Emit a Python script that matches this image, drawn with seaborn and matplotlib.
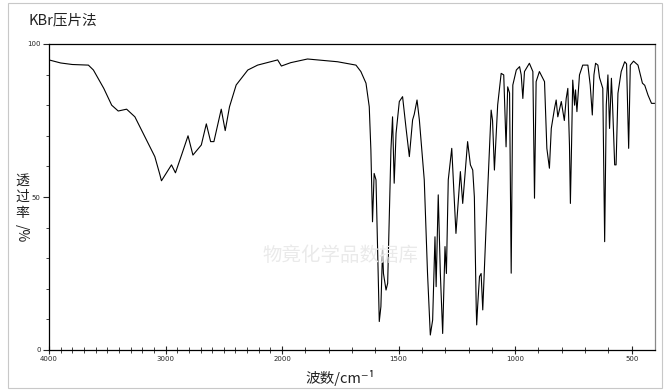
import numpy as np
import pandas as pd
import seaborn as sns
import matplotlib
matplotlib.use("Agg")
import matplotlib.pyplot as plt
from matplotlib.patches import Rectangle

# ---------------- data ----------------
wavenumber = [4000, 3900, 3800, 3662, 3619, 3530, 3462, 3406, 3334, 3263, 3177, 3092,
              3050, 3035, 2990, 2949, 2915, 2860, 2807, 2765, 2693, 2650, 2613, 2585,
              2522, 2488, 2451, 2394, 2294, 2210, 2100, 2038, 2006, 1963, 1891, 1805,
              1762, 1726, 1683, 1662, 1640, 1626, 1619, 1612, 1605, 1597, 1583, 1576,
              1569, 1565, 1554, 1547, 1533, 1526, 1519, 1511, 1497, 1483, 1468, 1454,
              1440, 1433, 1421, 1411, 1390, 1376, 1364, 1354, 1344, 1339, 1330, 1321,
              1311, 1301, 1295, 1287, 1272, 1254, 1235, 1225, 1204, 1192, 1182, 1175,
              1167, 1165, 1161, 1153, 1146, 1139, 1125, 1113, 1103, 1097, 1089, 1082,
              1075, 1060, 1049, 1039, 1032, 1024, 1017, 1010, 995, 981, 974, 967,
              960, 939, 924, 917, 910, 896, 874, 864, 853, 845, 831, 824,
              817, 802, 789, 781, 774, 767, 763, 758, 753, 745, 741, 735,
              724, 710, 688, 678, 669, 662, 655, 645, 638, 624, 616, 609,
              602, 595, 587, 582, 573, 567, 559, 545, 530, 522, 513, 506,
              492, 473, 454, 444, 430, 415, 400]
transmittance = [94.8, 93.8, 93.3, 93.1, 91.5, 85.5, 80.0, 78.1, 78.7, 76.2, 69.7, 63.2,
                 57.5, 55.3, 58.0, 60.5, 57.9, 64.0, 70.0, 63.7, 67.0, 73.9, 68.1, 68.1,
                 78.7, 71.7, 79.5, 86.6, 91.5, 93.1, 94.2, 94.8, 92.8, 93.9, 95.1, 94.5,
                 94.2, 93.7, 93.1, 91.0, 87.2, 79.5, 65.4, 41.9, 57.7, 55.6, 9.3, 14.2,
                 32.7, 25.0, 19.6, 21.8, 65.4, 76.2, 54.5, 70.8, 81.2, 82.8, 72.4, 63.2,
                 75.2, 77.0, 81.7, 75.2, 55.6, 25.1, 4.9, 9.8, 37.0, 20.7, 50.7, 25.1,
                 5.4, 33.8, 25.0, 55.6, 65.9, 38.1, 58.3, 47.9, 68.1, 60.5, 58.8, 50.0,
                 13.6, 8.2, 14.2, 24.0, 25.0, 13.1, 39.8, 60.5, 78.4, 75.0, 58.8, 69.2,
                 80.1, 90.4, 89.9, 66.4, 86.0, 84.0, 25.1, 86.6, 91.5, 92.6, 89.9, 82.2,
                 91.0, 93.7, 91.0, 49.6, 87.7, 91.0, 87.7, 65.9, 59.4, 72.4, 79.0, 81.7,
                 76.2, 81.2, 75.0, 82.2, 85.5, 67.0, 47.9, 67.0, 88.2, 80.0, 85.0, 77.9,
                 89.9, 93.1, 93.1, 86.6, 76.8, 89.9, 93.7, 93.1, 89.0, 85.5, 35.4, 80.1,
                 89.9, 72.4, 88.8, 80.0, 60.5, 60.5, 83.9, 91.0, 94.2, 93.5, 65.9, 93.1,
                 94.4, 93.1, 87.2, 86.5, 83.3, 80.6, 80.6]
x_major_ticks = [4000, 3000, 2000, 1500, 1000, 500]
x_tick_labels = ["4000", "3000", "2000", "1500", "1000", "500"]
y_major_ticks = [0, 50, 100]
y_tick_labels = ["0", "50", "100"]

title_text = "KBr压片法"
xlabel_text = "波数/cm⁻¹"
ylabel_chars = ["透", "过", "率"]
ylabel_tail = "/%"
watermark_text = "物竟化学品数据库"

df = pd.DataFrame({"wn": wavenumber, "T": transmittance})

# ---------------- figure ----------------
sns.set_style("white")
plt.rcParams['font.family'] = ['Noto Sans CJK SC', 'DejaVu Sans']

fig = plt.figure(figsize=(6.67, 3.91), dpi=100)
ax = fig.add_axes([49 / 667, 1 - 350 / 391, 606 / 667, 306 / 391])

def fwd(x):
    x = np.asarray(x, dtype=float)
    return np.where(x > 2000, 2000 + (x - 2000) / 2.0, x)

def inv(y):
    y = np.asarray(y, dtype=float)
    return np.where(y > 2000, 2000 + (y - 2000) * 2.0, y)

ax.set_xscale('function', functions=(fwd, inv))

sns.lineplot(data=df, x="wn", y="T", ax=ax, sort=False, estimator=None,
             color="black", linewidth=0.8)

ax.set_xlim(4000, 400)
ax.set_ylim(0, 100)

ax.set_xticks(x_major_ticks)
ax.set_xticklabels(x_tick_labels, fontsize=5, family='DejaVu Sans')
minor_x = [v for v in range(3900, 400, -100) if v not in x_major_ticks]
ax.set_xticks(minor_x, minor=True)
ax.set_yticks(y_major_ticks)
ax.set_yticklabels(y_tick_labels, fontsize=5, family='DejaVu Sans')
ax.set_yticks([10, 20, 30, 40, 60, 70, 80, 90], minor=True)

ax.tick_params(axis='x', which='major', direction='inout', length=6, width=0.8, pad=1)
ax.tick_params(axis='x', which='minor', direction='inout', length=4, width=0.6)
ax.tick_params(axis='y', which='major', direction='out', length=4, width=0.8, pad=2)
ax.tick_params(axis='y', which='minor', direction='out', length=2.5, width=0.6)
ax.xaxis.set_ticks_position('bottom')
ax.yaxis.set_ticks_position('left')

for s in ax.spines.values():
    s.set_visible(True)
    s.set_color('black')
    s.set_linewidth(0.9)
ax.spines['right'].set_color('#888888')

ax.set_xlabel("")
ax.set_ylabel("")

# labels
fig.text(28 / 667, 1 - 20 / 391, title_text, fontsize=10.5, ha='left', va='center',
         color='#222222')
fig.text(340 / 667, 1 - 378 / 391, xlabel_text, fontsize=10.5, ha='center', va='center',
         color='#222222')
for i, ch in enumerate(ylabel_chars):
    fig.text(22 / 667, 1 - (181 + 16 * i) / 391, ch, fontsize=10, ha='center',
             va='center', color='#222222')
fig.text(22 / 667, 1 - 233 / 391, ylabel_tail, fontsize=10, ha='center', va='center',
         rotation=-90, color='#222222')
fig.text(340 / 667, 1 - 255 / 391, watermark_text, fontsize=14, ha='center', va='center',
         color='#eaeaea')

# outer border
fig.patches.append(Rectangle((8 / 667, 3 / 391), (662 - 8) / 667, (388 - 3) / 391,
                             transform=fig.transFigure, fill=False,
                             edgecolor='#c8c8c8', linewidth=0.8))

fig.savefig("out.png", dpi=100, facecolor='white')
